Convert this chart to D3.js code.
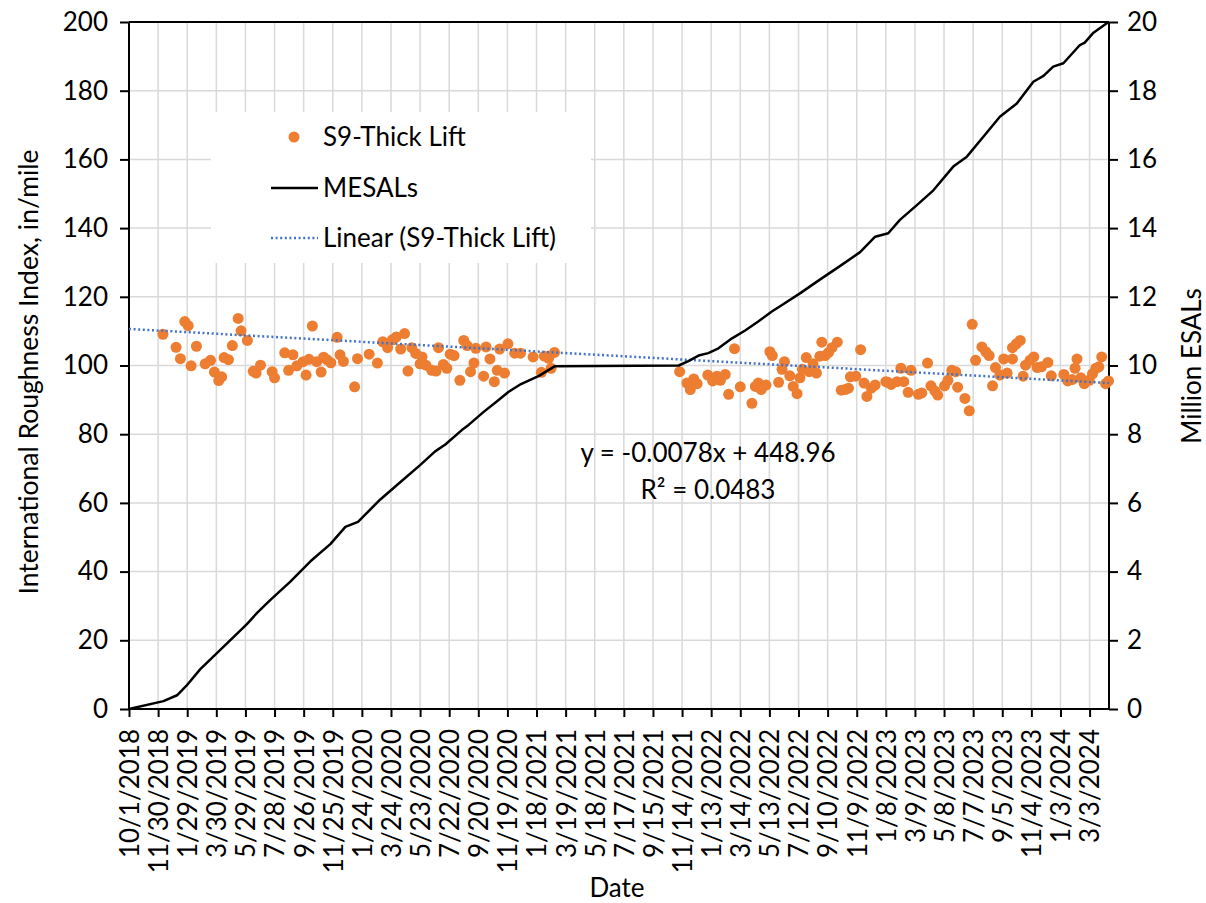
<!DOCTYPE html>
<html><head><meta charset="utf-8">
<script src="https://cdn.jsdelivr.net/npm/d3@7/dist/d3.min.js"></script>
<style>body{margin:0;background:#fff}svg{display:block}text{font-family:Lato,"Open Sans",sans-serif;fill:#000}</style>
</head><body><svg id="c" width="1206" height="903"></svg>
<script>
// Dates as Excel serial day numbers
const dateTickLabels = ["10/1/2018","11/30/2018","1/29/2019","3/30/2019","5/29/2019","7/28/2019","9/26/2019","11/25/2019","1/24/2020","3/24/2020","5/23/2020","7/22/2020","9/20/2020","11/19/2020","1/18/2021","3/19/2021","5/18/2021","7/17/2021","9/15/2021","11/14/2021","1/13/2022","3/14/2022","5/13/2022","7/12/2022","9/10/2022","11/9/2022","1/8/2023","3/9/2023","5/8/2023","7/7/2023","9/5/2023","11/4/2023","1/3/2024","3/3/2024"];
const xDomain = [43374, 45394];
const iriTicks = [0,20,40,60,80,100,120,140,160,180,200];
const esalTicks = [0,2,4,6,8,10,12,14,16,18,20];

const iriDates = [43444,43471,43480,43489,43496,43502,43513,43531,43542,43550,43559,43565,43570,43579,43587,43599,43605,43618,43630,43636,43645,43669,43674,43695,43703,43712,43720,43733,43739,43745,43752,43761,43770,43775,43782,43790,43803,43809,43816,43839,43845,43869,43886,43897,43907,43917,43925,43934,43942,43949,43957,43965,43974,43978,43986,43998,44007,44012,44022,44029,44036,44044,44056,44064,44071,44078,44085,44089,44105,44110,44118,44127,44133,44138,44148,44155,44169,44181,44207,44224,44230,44239,44244,44251,
44509,44524,44531,44538,44545,44567,44577,44586,44593,44603,44610,44622,44634,44658,44665,44671,44677,44687,44695,44700,44713,44720,44725,44736,44743,44751,44757,44762,44770,44776,44784,44791,44798,44802,44809,44816,44823,44834,44842,44850,44857,44861,44872,44882,44889,44895,44904,44912,44934,44938,44945,44957,44965,44971,44980,44986,45001,45008,45020,45027,45035,45041,45055,45062,45070,45078,45082,45097,45106,45112,45119,45132,45140,45147,45154,45160,45169,45177,45184,45195,45195,45203,45211,45217,45222,45231,45239,45246,45255,45268,45275,45301,45309,45318,45324,45328,45336,45343,45353,45360,45367,45373,45379,45387,45393];
const iriValues = [109.1,105.3,102.0,112.8,111.6,99.9,105.6,100.5,101.5,98.1,95.6,96.7,102.3,101.7,105.8,113.7,110.1,107.3,98.3,97.8,100.1,98.2,96.4,103.7,98.6,103.1,99.9,101.1,97.2,101.8,111.5,101.1,98.1,102.4,101.7,100.8,108.2,103.1,101.2,93.8,102.0,103.3,100.7,106.9,105.2,107.5,108.3,104.8,109.3,98.4,105.2,103.5,100.5,102.5,100.1,98.6,98.4,105.2,100.3,99.2,103.3,102.9,95.7,107.3,105.8,98.2,100.7,105.0,96.9,105.4,101.9,95.3,98.6,104.8,97.8,106.3,103.6,103.6,102.5,98.0,102.7,102.1,99.2,103.8,
98.2,94.9,93.0,96.1,94.7,97.2,95.5,96.9,95.7,97.4,91.6,104.9,93.8,89.0,93.9,94.9,93.0,94.3,104.0,102.9,95.1,98.9,101.1,97.0,93.9,91.8,96.4,98.9,102.3,98.2,100.5,97.8,102.7,106.8,102.9,103.8,105.2,106.8,92.8,93.0,93.4,96.7,96.9,104.6,94.9,91.0,93.4,94.3,95.3,95.1,94.5,95.3,99.2,95.3,92.2,98.6,91.6,92.0,100.7,94.1,92.6,91.4,94.1,95.7,98.6,98.2,93.7,90.4,86.8,112.0,101.5,105.4,104.0,102.9,94.1,99.4,97.2,101.9,97.8,105.2,101.9,106.3,107.3,96.9,100.1,101.5,102.5,99.4,99.6,100.9,97.0,97.4,95.5,95.9,99.2,101.9,96.4,94.7,95.7,97.6,99.2,99.6,102.5,94.7,95.5];

const esalDates = [43374,43445,43473,43492,43521,43576,43617,43638,43665,43706,43748,43789,43820,43846,43892,43933,43974,44005,44026,44060,44074,44105,44132,44156,44182,44219,44252,44507,44527,44548,44568,44589,44617,44644,44671,44699,44720,44757,44798,44840,44881,44912,44939,44963,44998,45032,45073,45101,45135,45169,45204,45238,45259,45279,45300,45334,45344,45362,45393];
const esalValues = [0,0.23,0.40,0.67,1.16,1.91,2.47,2.80,3.17,3.7,4.3,4.8,5.3,5.45,6.1,6.6,7.1,7.5,7.7,8.12,8.27,8.65,8.95,9.23,9.46,9.70,9.98,10.0,10.13,10.29,10.36,10.5,10.79,11.02,11.28,11.57,11.76,12.1,12.5,12.9,13.3,13.75,13.85,14.24,14.67,15.1,15.79,16.08,16.66,17.24,17.63,18.26,18.43,18.7,18.8,19.33,19.4,19.69,20.0];

const trendSlope = -0.0078, trendIntercept = 448.96;
const equationText = "y = -0.0078x + 448.96";
const r2Text = "R² = 0.0483";
const seriesNames = ["S9-Thick Lift","MESALs","Linear (S9-Thick Lift)"];

function toSerial(s){const [m,d,y]=s.split("/").map(Number);return Math.round((Date.UTC(y,m-1,d)-Date.UTC(1899,11,30))/86400000);}

const L=129,R=1109,T=22,B=709;
const svg=d3.select("#c");
const x=d3.scaleLinear().domain(xDomain).range([L,R]);
const y=d3.scaleLinear().domain([0,200]).range([B,T]);
const y2=d3.scaleLinear().domain([0,20]).range([B,T]);
const tickSerials=dateTickLabels.map(toSerial);
const grid="#d9d9d9";
const FS="26px";

// gridlines
svg.append("g").selectAll("line").data(tickSerials).join("line")
  .attr("x1",d=>x(d)).attr("x2",d=>x(d)).attr("y1",T).attr("y2",B).attr("stroke",grid).attr("stroke-width",1.5);
svg.append("g").selectAll("line").data(iriTicks).join("line")
  .attr("x1",L).attr("x2",R).attr("y1",d=>y(d)).attr("y2",d=>y(d)).attr("stroke",grid).attr("stroke-width",1.5);

// legend background (covers gridlines)
svg.append("rect").attr("x",211).attr("y",112).attr("width",380).attr("height",151).attr("fill","#fff");

// axes
const gx=svg.append("g").attr("transform",`translate(0,${B})`)
  .call(d3.axisBottom(x).tickValues(tickSerials).tickSize(8).tickFormat((d,i)=>dateTickLabels[i]));
gx.selectAll("text").attr("transform","rotate(-90)").attr("text-anchor","end").attr("x",-20).attr("y",0).attr("dy","0.36em").style("font-size",FS);
const gl=svg.append("g").attr("transform",`translate(${L},0)`).call(d3.axisLeft(y).tickValues(iriTicks).tickSize(9).tickPadding(12));
gl.selectAll("text").style("font-size",FS);
const gr=svg.append("g").attr("transform",`translate(${R},0)`).call(d3.axisRight(y2).tickValues(esalTicks).tickSize(9).tickPadding(9));
gr.selectAll("text").style("font-size",FS);
[gx,gl,gr].forEach(g=>{g.select(".domain").remove();g.selectAll("line").attr("stroke","#000").attr("stroke-width",2);});
svg.append("line").attr("x1",L).attr("x2",R).attr("y1",B).attr("y2",B).attr("stroke","#000").attr("stroke-width",2);
svg.append("line").attr("x1",L).attr("x2",L).attr("y1",T).attr("y2",B).attr("stroke","#000").attr("stroke-width",2);
svg.append("line").attr("x1",R).attr("x2",R).attr("y1",T).attr("y2",B).attr("stroke","#000").attr("stroke-width",2);
svg.append("line").attr("x1",L).attr("x2",R).attr("y1",T).attr("y2",T).attr("stroke","#000").attr("stroke-width",2);

// scatter
const pts=iriDates.map((d,i)=>({d,v:iriValues[i]}));
svg.append("g").selectAll("circle").data(pts).join("circle")
  .attr("cx",p=>x(p.d)).attr("cy",p=>y(p.v)).attr("r",5.5).attr("fill","#ED7D31");

// trend line
svg.append("path").datum(xDomain).attr("fill","none").attr("stroke","#4472C4").attr("stroke-width",2.5)
  .attr("stroke-dasharray","2,2.6")
  .attr("d",d3.line().x(d=>x(d)).y(d=>y(trendSlope*d+trendIntercept)));

// MESAL line
const es=esalDates.map((d,i)=>({d,v:esalValues[i]}));
svg.append("path").datum(es).attr("fill","none").attr("stroke","#000").attr("stroke-width",2.5).attr("stroke-linejoin","round")
  .attr("d",d3.line().x(p=>x(p.d)).y(p=>y2(p.v)));

// legend
const lg=svg.append("g");
lg.append("circle").attr("cx",294).attr("cy",137).attr("r",5.5).attr("fill","#ED7D31");
lg.append("line").attr("x1",271).attr("x2",318).attr("y1",188).attr("y2",188).attr("stroke","#000").attr("stroke-width",2.5);
lg.append("line").attr("x1",271).attr("x2",318).attr("y1",238).attr("y2",238).attr("stroke","#4472C4").attr("stroke-width",2.5).attr("stroke-dasharray","2,2.6");
seriesNames.forEach((n,i)=>lg.append("text").attr("x",323).attr("y",137+i*50.5).attr("dy","0.36em").style("font-size",FS).text(n));

// equation
svg.append("text").attr("x",708).attr("y",453).attr("dy","0.36em").attr("text-anchor","middle").style("font-size",FS).text(equationText);
svg.append("text").attr("x",708).attr("y",490).attr("dy","0.36em").attr("text-anchor","middle").style("font-size",FS).text(r2Text);

// axis titles
svg.append("text").attr("transform","translate(28,372) rotate(-90)").attr("dy","0.36em").attr("text-anchor","middle").style("font-size","26.5px").text("International Roughness Index, in/mile");
svg.append("text").attr("transform","translate(1192,366) rotate(-90)").attr("dy","0.36em").attr("text-anchor","middle").style("font-size",FS).text("Million ESALs");
svg.append("text").attr("x",617).attr("y",888).attr("dy","0.36em").attr("text-anchor","middle").style("font-size",FS).text("Date");
</script></body></html>
